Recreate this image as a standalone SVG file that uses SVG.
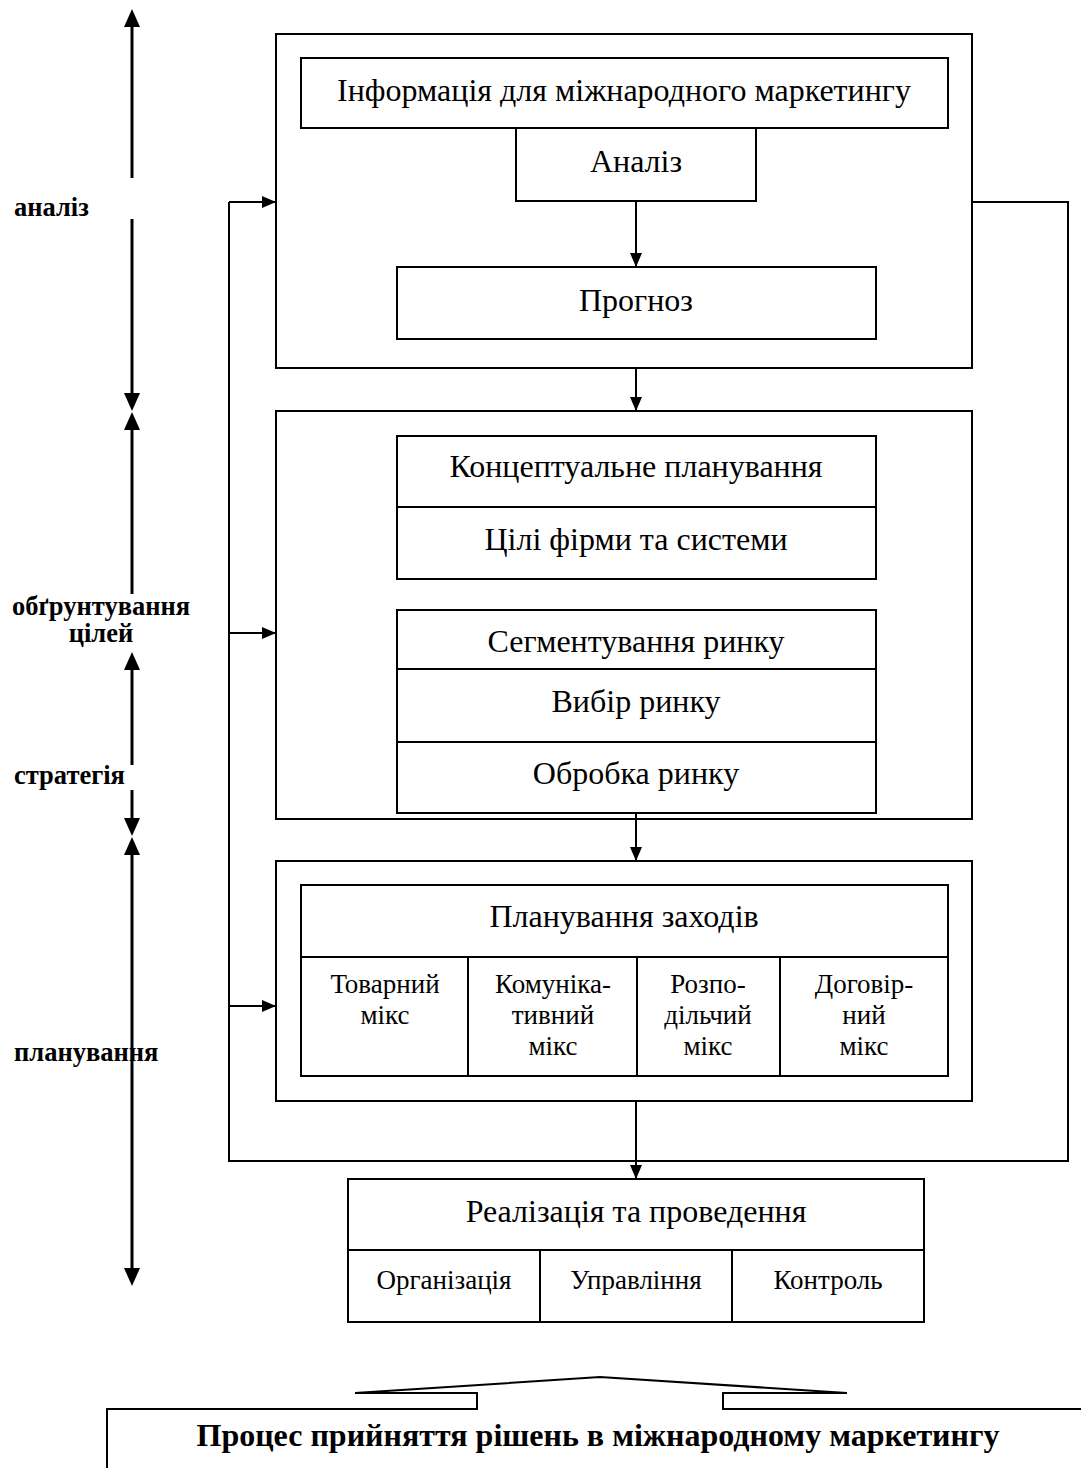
<svg xmlns="http://www.w3.org/2000/svg" width="1081" height="1468" viewBox="0 0 1081 1468">
  <style>
    .box { fill: none; stroke: #000; stroke-width: 2; }
    .line { fill: none; stroke: #000; stroke-width: 2; }
    .axis { fill: none; stroke: #000; stroke-width: 3; }
    .head { fill: #000; stroke: none; }
    .t { font-family: "Liberation Serif", "Times New Roman", serif; font-size: 32px; fill: #000; text-anchor: middle; }
    .s { font-family: "Liberation Serif", "Times New Roman", serif; font-size: 27px; fill: #000; text-anchor: middle; }
    .lbl { font-family: "Liberation Serif", "Times New Roman", serif; font-size: 26.5px; font-weight: bold; fill: #000; }
    .title { font-family: "Liberation Serif", "Times New Roman", serif; font-size: 32px; font-weight: bold; fill: #000; text-anchor: middle; }
  </style>
  <defs>
    <marker id="arr" viewBox="0 0 14 12" refX="14" refY="6" markerWidth="14" markerHeight="12" markerUnits="userSpaceOnUse" orient="auto">
      <path d="M0,0 L14,6 L0,12 Z" fill="#000"/>
    </marker>
  </defs>

  <rect width="1081" height="1468" fill="#fff"/>

  <!-- stage axis on the left -->
  <g id="axis">
    <line class="axis" x1="132" y1="24" x2="132" y2="178"/>
    <polygon class="head" points="132,9 124,27 140,27"/>
    <line class="axis" x1="132" y1="219" x2="132" y2="396"/>
    <polygon class="head" points="132,411 124,393 140,393"/>
    <polygon class="head" points="132,412 124,430 140,430"/>
    <line class="axis" x1="132" y1="428" x2="132" y2="594"/>
    <polygon class="head" points="132,652 124,670 140,670"/>
    <line class="axis" x1="132" y1="668" x2="132" y2="765"/>
    <line class="axis" x1="132" y1="790" x2="132" y2="822"/>
    <polygon class="head" points="132,836 124,818 140,818"/>
    <polygon class="head" points="132,837 124,855 140,855"/>
    <line class="axis" x1="132" y1="852" x2="132" y2="1272"/>
    <polygon class="head" points="132,1286 124,1268 140,1268"/>
  </g>

  <g id="labels">
    <text class="lbl" x="12" y="615">обґрунтування</text>
    <text class="lbl" x="14" y="216">аналіз</text>
    <text class="lbl" x="101" y="642" text-anchor="middle">цілей</text>
    <text class="lbl" x="14" y="784">стратегія</text>
    <text class="lbl" x="14" y="1061">планування</text>
  </g>

  <!-- analysis block -->
  <g id="block-analysis">
    <rect class="box" x="276" y="34" width="696" height="334"/>
  </g>
  <g id="info">
    <rect class="box" x="301" y="58" width="647" height="70"/>
    <text class="t" x="624" y="101">Інформація для міжнародного маркетингу</text>
  </g>
  <g id="analysis">
    <rect class="box" x="516" y="128" width="240" height="73"/>
    <text class="t" x="636" y="172">Аналіз</text>
  </g>
  <g id="forecast">
    <rect class="box" x="397" y="267" width="479" height="72"/>
    <text class="t" x="636" y="311">Прогноз</text>
  </g>

  <!-- goals and strategy block -->
  <g id="block-goals">
    <rect class="box" x="276" y="411" width="696" height="408"/>
  </g>
  <g id="concept">
    <rect class="box" x="397" y="436" width="479" height="143"/>
    <line class="line" x1="397" y1="507" x2="876" y2="507"/>
    <text class="t" x="636" y="477">Концептуальне планування</text>
    <text class="t" x="636" y="550">Цілі фірми та системи</text>
  </g>
  <g id="market">
    <rect class="box" x="397" y="610" width="479" height="203"/>
    <line class="line" x1="397" y1="669" x2="876" y2="669"/>
    <line class="line" x1="397" y1="742" x2="876" y2="742"/>
    <text class="t" x="636" y="652">Сегментування ринку</text>
    <text class="t" x="636" y="712">Вибір ринку</text>
    <text class="t" x="636" y="784">Обробка ринку</text>
  </g>

  <!-- planning block -->
  <g id="block-planning">
    <rect class="box" x="276" y="861" width="696" height="240"/>
  </g>
  <g id="measures">
    <rect class="box" x="301" y="885" width="647" height="191"/>
    <line class="line" x1="301" y1="957" x2="948" y2="957"/>
    <line class="line" x1="468" y1="957" x2="468" y2="1076"/>
    <line class="line" x1="637" y1="957" x2="637" y2="1076"/>
    <line class="line" x1="780" y1="957" x2="780" y2="1076"/>
    <text class="t" x="624" y="927">Планування заходів</text>
    <text class="s" x="385" y="993">Товарний</text>
    <text class="s" x="385" y="1024">мікс</text>
    <text class="s" x="553" y="993">Комуніка-</text>
    <text class="s" x="553" y="1024">тивний</text>
    <text class="s" x="553" y="1055">мікс</text>
    <text class="s" x="708" y="993">Розпо-</text>
    <text class="s" x="708" y="1024">дільчий</text>
    <text class="s" x="708" y="1055">мікс</text>
    <text class="s" x="864" y="993">Договір-</text>
    <text class="s" x="864" y="1024">ний</text>
    <text class="s" x="864" y="1055">мікс</text>
  </g>

  <!-- implementation -->
  <g id="implementation">
    <rect class="box" x="348" y="1179" width="576" height="143"/>
    <line class="line" x1="348" y1="1250" x2="924" y2="1250"/>
    <line class="line" x1="540" y1="1250" x2="540" y2="1322"/>
    <line class="line" x1="732" y1="1250" x2="732" y2="1322"/>
    <text class="t" x="636" y="1222">Реалізація та проведення</text>
    <text class="s" x="444" y="1289">Організація</text>
    <text class="s" x="636" y="1289">Управління</text>
    <text class="s" x="828" y="1289">Контроль</text>
  </g>

  <!-- connectors -->
  <g id="connectors">
    <line class="line" x1="636" y1="201" x2="636" y2="267" marker-end="url(#arr)"/>
    <line class="line" x1="636" y1="368" x2="636" y2="411" marker-end="url(#arr)"/>
    <line class="line" x1="636" y1="813" x2="636" y2="861" marker-end="url(#arr)"/>
    <line class="line" x1="636" y1="1101" x2="636" y2="1179" marker-end="url(#arr)"/>
    <!-- feedback loop -->
    <polyline class="line" points="972,202 1068,202 1068,1161 229,1161 229,202"/>
    <line class="line" x1="229" y1="202" x2="276" y2="202" marker-end="url(#arr)"/>
    <line class="line" x1="229" y1="633" x2="276" y2="633" marker-end="url(#arr)"/>
    <line class="line" x1="229" y1="1006" x2="276" y2="1006" marker-end="url(#arr)"/>
  </g>

  <!-- caption bracket -->
  <g id="caption">
    <path class="line" d="M107,1468 L107,1409 L477,1409 L477,1393 L355,1393 L600,1377 L847,1393 L723,1393 L723,1409 L1081,1409"/>
    <text class="title" x="598" y="1446">Процес прийняття рішень в міжнародному маркетингу</text>
  </g>
</svg>
